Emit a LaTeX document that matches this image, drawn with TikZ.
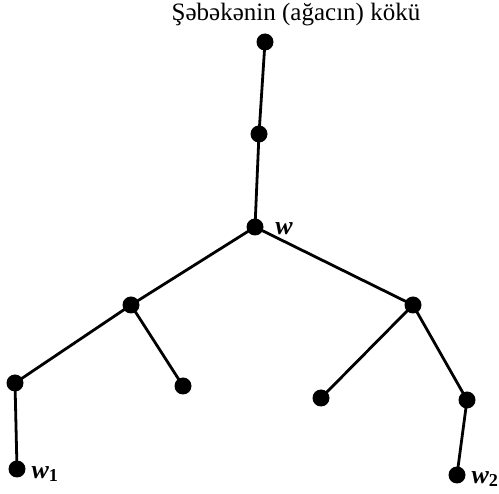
\documentclass[tikz,border=0pt]{standalone}
\usepackage{fontspec}
\setmainfont{Liberation Serif}
\begin{document}
\begin{tikzpicture}[x=1pt,y=-1pt,
  dot/.style={circle,fill=black,inner sep=0pt,minimum size=17pt},
  edge/.style={line width=2.8pt},
  lbl/.style={font=\fontsize{26}{28}\selectfont\bfseries\itshape,inner sep=0pt}]
\useasboundingbox (0,0) rectangle (499,494);
\node[font=\fontsize{25}{28}\selectfont,inner sep=0pt] (title) at (296,15) {Şəbəkənin (ağacın) kökü};
\node[dot] (r)  at (265,42) {};
\node[dot] (a)  at (259,134) {};
\node[dot] (w)  at (255,227) {};
\node[dot] (l)  at (131,305) {};
\node[dot] (rc) at (413,305) {};
\node[dot] (ll) at (15,383) {};
\node[dot] (lr) at (183,386) {};
\node[dot] (rl) at (321,398) {};
\node[dot] (rr) at (467,400) {};
\node[dot] (w1) at (17,469) {};
\node[dot] (w2) at (457,475) {};
\node[lbl] (wl)  at (284,229) {w};
\node[lbl] (w1l) at (45,474) {w$_{\mathbf{1}}$};
\node[lbl] (w2l) at (485,479) {w$_{\mathbf{2}}$};
\draw[edge] (r.center) -- (a.center) -- (w.center);
\draw[edge] (w.center) -- (l.center) -- (ll.center) -- (w1.center);
\draw[edge] (l.center) -- (lr.center);
\draw[edge] (w.center) -- (rc.center) -- (rr.center) -- (w2.center);
\draw[edge] (rc.center) -- (rl.center);
\end{tikzpicture}
\end{document}
